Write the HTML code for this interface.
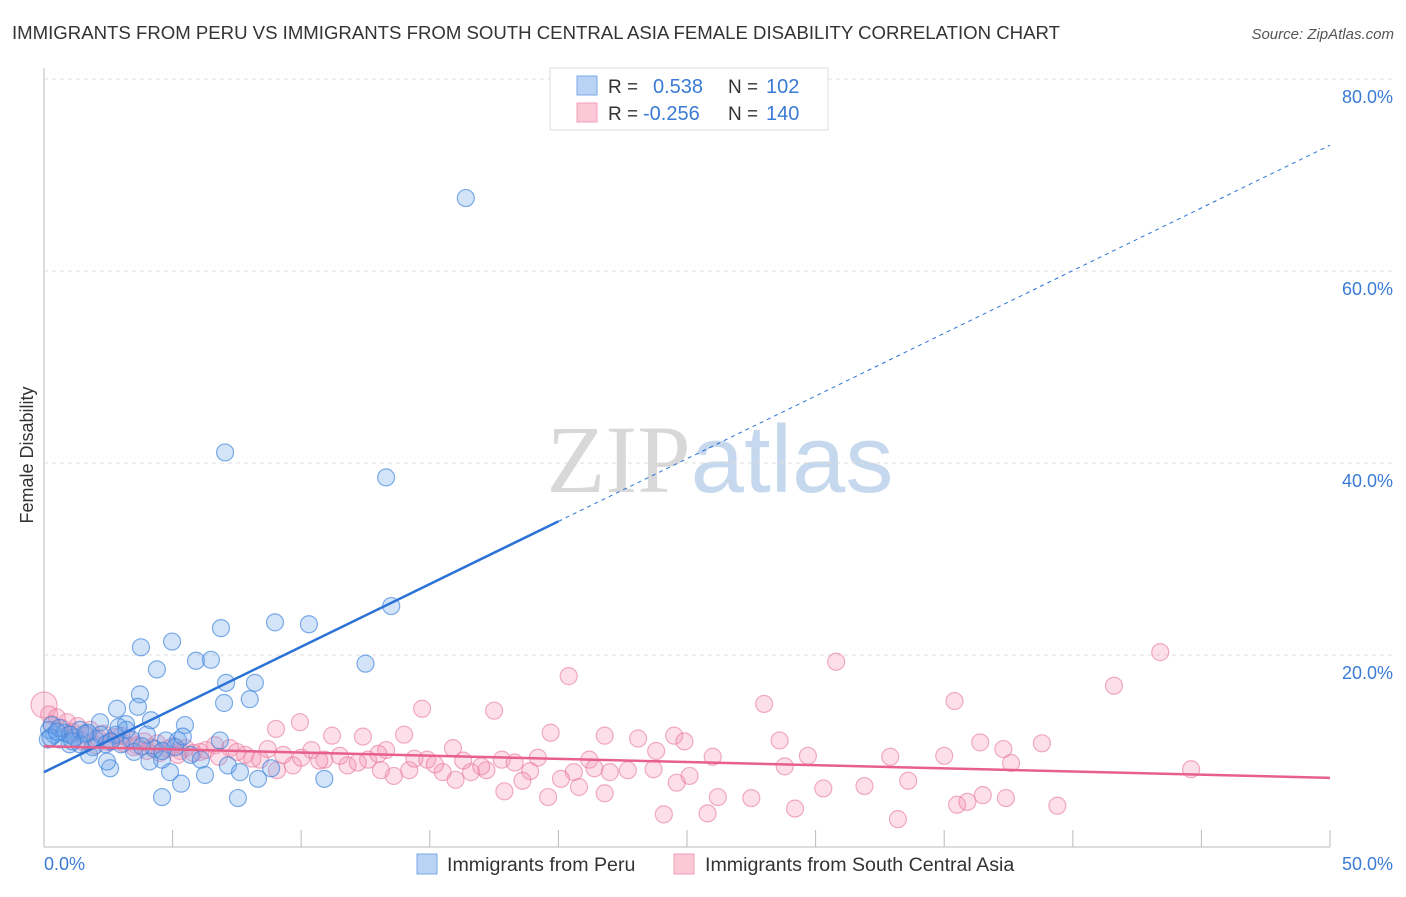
<!DOCTYPE html>
<html><head><meta charset="utf-8"><style>
body{margin:0;background:#fff;font-family:"Liberation Sans",sans-serif}
svg text{font-family:"Liberation Sans",sans-serif}
</style></head><body>
<svg id="chart" width="1406" height="892" xmlns="http://www.w3.org/2000/svg">
<text x="12" y="39" font-size="18.6" fill="#333">IMMIGRANTS FROM PERU VS IMMIGRANTS FROM SOUTH CENTRAL ASIA FEMALE DISABILITY CORRELATION CHART</text>
<text x="1394" y="39" font-size="15" fill="#555" text-anchor="end" font-style="italic">Source: ZipAtlas.com</text>
<text x="720" y="492" font-size="96" text-anchor="middle"><tspan fill="#d8d8d8" font-family="Liberation Serif">ZIP</tspan><tspan fill="#c6d8ee">atlas</tspan></text>
<text transform="translate(33,455) rotate(-90)" font-size="18" fill="#333" text-anchor="middle">Female Disability</text>
<g id="grid"></g><g id="pts"></g><g id="lines"></g>
<g>
<rect x="550" y="68" width="278" height="62" fill="#fff" stroke="#ddd"/>
<rect x="577" y="76" width="20" height="19" fill="#b9d3f5" stroke="#7aa8e8"/>
<rect x="577" y="103" width="20" height="19" fill="#fcc8d8" stroke="#f0a0b8"/>
<text x="608" y="93" font-size="19" fill="#333">R =</text><text x="653" y="93" font-size="20" fill="#3a7bd5">0.538</text>
<text x="728" y="93" font-size="19" fill="#333">N =</text><text x="766" y="93" font-size="20" fill="#3a7bd5">102</text>
<text x="608" y="120" font-size="19" fill="#333">R =</text><text x="643" y="120" font-size="20" fill="#3a7bd5">-0.256</text>
<text x="728" y="120" font-size="19" fill="#333">N =</text><text x="766" y="120" font-size="20" fill="#3a7bd5">140</text>
</g>
<g>
<rect x="417" y="854" width="20" height="20" fill="#b9d3f5" stroke="#7aa8e8"/>
<text x="447" y="871" font-size="19.6" fill="#333">Immigrants from Peru</text>
<rect x="674" y="854" width="20" height="20" fill="#fcc8d8" stroke="#f0a0b8"/>
<text x="705" y="871" font-size="19.6" fill="#333">Immigrants from South Central Asia</text>
</g>
</svg>
<script>
const blueX=[16.4,7.04,13.3,13.5,10.3,8.98,6.88,3.77,4.98,5.91,6.49,4.39,12.5,7.08,8.2,3.73,7.0,8.0,2.84,3.65,4.16,5.48,3.19,2.18,6.84,5.21,4.74,4.59,6.26,4.9,7.15,8.83,10.9,7.62,4.59,5.33,7.54,8.32,2.57,2.45,1.75,1.0,0.6,0.4,0.2,0.3,0.15,0.8,1.2,1.4,2.0,2.4,3.0,3.4,4.0,4.3,5.1,5.7,6.1,1.7,1.9,2.8,3.5,4.1,0.6,1.0,0.25,1.4,2.2,3.2,0.5,1.6,2.6,3.8,4.6,5.4,1.1,2.9];
const blueY=[67.6,41.1,38.5,25.1,23.2,23.4,22.8,20.8,21.4,19.4,19.5,18.5,19.1,17.1,17.1,15.9,15.0,15.4,14.4,14.6,13.2,12.7,12.8,13.0,11.1,11.1,11.1,9.1,7.5,7.8,8.5,8.2,7.1,7.8,5.2,6.6,5.1,7.1,8.2,8.9,9.6,10.7,11.2,11.7,12.2,12.7,11.2,11.9,11.4,12.2,11.2,10.7,10.7,11.2,11.7,10.2,10.4,9.6,9.1,11.9,10.4,11.7,9.9,8.9,12.4,11.7,11.4,10.7,11.7,12.2,12.0,11.8,11.0,10.5,10.0,11.5,11.0,12.5];
const pinkX=[43.4,30.8,20.4,41.6,35.4,28.0,17.5,14.7,9.02,9.95,19.7,21.8,23.1,24.5,24.9,28.6,36.4,37.3,38.8,35.0,32.9,29.7,26.0,23.8,21.2,19.2,17.8,15.9,13.3,14.0,11.2,12.4,37.6,33.6,31.9,30.3,28.8,27.5,26.2,25.1,24.6,23.7,22.7,22.0,21.4,20.6,20.1,19.6,18.9,18.6,17.9,17.2,16.6,16.0,15.5,14.9,14.2,13.6,13.1,12.6,11.8,10.9,10.4,9.68,9.06,8.4,7.82,7.23,6.65,6.07,21.8,20.8,24.1,25.8,29.2,33.2,35.5,35.9,36.5,37.4,39.4,44.6,0,0.5,0.9,1.3,1.8,2.3,2.8,3.3,3.9,4.4,5.0,5.5,0.3,0.7,1.1,1.6,2.1,2.6,3.1,3.6,4.2,4.8,5.3,5.8,0.2,1.0,1.5,2.0,2.5,3.0,3.5,4.0,4.5,5.2,6.3,6.8,7.5,8.1,8.7,9.3,10.0,10.7,11.5,12.2,13.0,14.4,15.2,16.3,17.0,18.3];
const pinkY=[20.3,19.3,17.8,16.8,15.2,14.9,14.2,14.4,12.3,13.0,11.9,11.6,11.3,11.6,11.0,11.1,10.9,10.2,10.8,9.5,9.4,9.5,9.4,10.0,9.1,9.3,9.1,10.3,10.1,11.7,11.6,11.5,8.75,6.9,6.35,6.1,8.4,5.1,5.2,7.4,6.7,8.1,8.0,7.8,8.2,7.8,7.1,5.2,7.9,6.9,5.8,8.0,7.8,7.0,7.8,9.1,8.0,7.4,8.0,9.1,8.5,9.1,10.1,8.5,8.0,9.1,9.6,10.3,10.6,9.9,5.6,6.25,3.4,3.5,4.0,2.9,4.4,4.7,5.4,5.1,4.3,8.1,14.8,13.5,13.0,12.6,12.2,11.8,11.5,11.2,11.0,10.8,10.5,10.3,12.8,12.4,12.0,11.6,11.3,11.0,10.8,10.6,10.4,10.2,10.0,9.8,13.8,11.8,11.0,10.6,10.9,11.6,10.4,10.0,9.8,9.6,10.1,9.4,9.9,9.2,10.2,9.6,9.3,9.0,9.5,8.8,9.7,9.2,8.6,9.0,8.4,8.8];
const yTicks=[20,40,60,80];
const yTickLabels=["20.0%","40.0%","60.0%","80.0%"];
const xTicks=[0,5,10,15,20,25,30,35,40,45,50];
const blueLine=[7.8,73.1], pinkLine=[10.5,7.2], blueSolidEnd=20;
const X=v=>44+v*25.72, Y=v=>847-v*9.6;
const NS="http://www.w3.org/2000/svg";
function mk(t,a,p){const e=document.createElementNS(NS,t);for(const k in a)e.setAttribute(k,a[k]);p.appendChild(e);return e;}
const g=document.getElementById('grid');
let ax=mk('line',{x1:44,y1:68,x2:44,y2:847,stroke:'#bbb'},g);


let bx=mk('line',{x1:44,y1:847,x2:1330,y2:847,stroke:'#bbb'},g);


yTicks.forEach((v,i)=>{
 const l=mk('line',{x1:44,y1:Y(v),x2:1394,y2:Y(v),stroke:'#ddd','stroke-dasharray':'4,4'},g);
 
 
 const t=mk('text',{x:1393,y:Y(v)+24,'font-size':18,fill:'#3a7bd5','text-anchor':'end'},g);t.textContent=yTickLabels[i];
 
 
});
xTicks.slice(1).forEach(v=>{const l=mk('line',{x1:X(v),y1:830,x2:X(v),y2:847,stroke:'#bbb'},g);
 
 });
let t0=mk('text',{x:44,y:870,'font-size':18,fill:'#3a7bd5'},g);t0.textContent='0.0%';


let t1=mk('text',{x:1393,y:870,'font-size':18,fill:'#3a7bd5','text-anchor':'end'},g);t1.textContent='50.0%';


const p=document.getElementById('pts');
pinkX.forEach((x,i)=>{const c=mk('circle',{cx:X(x),cy:Y(pinkY[i]),r:i==82?13:8.5,fill:'rgba(244,150,180,0.3)',stroke:'rgba(232,120,158,0.6)','stroke-width':1.2},p);
 
 });
blueX.forEach((x,i)=>{const c=mk('circle',{cx:X(x),cy:Y(blueY[i]),r:8.5,fill:'rgba(110,165,235,0.3)',stroke:'rgba(60,130,220,0.65)','stroke-width':1.2},p);
 
 });
const L=document.getElementById('lines');
const by=x=>blueLine[0]+(blueLine[1]-blueLine[0])*x/50;
let l1=mk('line',{x1:X(0),y1:Y(by(0)),x2:X(blueSolidEnd),y2:Y(by(blueSolidEnd)),stroke:'#2a72d6','stroke-width':2.5},L);


let l2=mk('line',{x1:X(blueSolidEnd),y1:Y(by(blueSolidEnd)),x2:X(50),y2:Y(by(50)),stroke:'#2a72d6','stroke-width':1,'stroke-dasharray':'4,4'},L);


let l3=mk('line',{x1:X(0),y1:Y(pinkLine[0]),x2:X(50),y2:Y(pinkLine[1]),stroke:'#e8608a','stroke-width':2.5},L);


</script>
</body></html>
